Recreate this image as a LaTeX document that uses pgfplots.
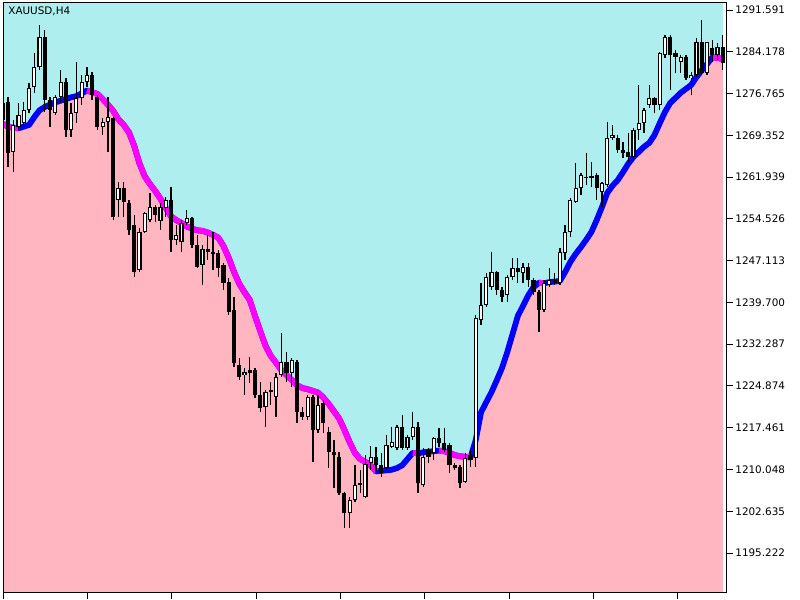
\documentclass[border=0pt]{standalone}
\usepackage{pgfplots}
\pgfplotsset{compat=1.18}
\usepackage{pgfplotstable}
\usepackage{fontspec}
\setmainfont{DejaVu Sans}
\definecolor{bgcyan}{RGB}{175,238,238}
\definecolor{bgpink}{RGB}{255,182,193}
\definecolor{mamag}{RGB}{255,0,255}
\definecolor{mablue}{RGB}{0,0,255}
\pgfplotstableread{
k o h l c ma
0 1275.1 1275.6 1271.2 1272.1 1271.4
1 1275.3 1276.2 1263.7 1266.2 1270.9
2 1266.4 1272.1 1262.8 1271.2 1270.7
3 1270.8 1275.1 1270.3 1273.0 1270.6
4 1271.5 1275.3 1270.8 1273.8 1270.9
5 1273.8 1278.6 1273.3 1277.7 1271.2
6 1277.9 1284.0 1276.9 1281.5 1272.6
7 1281.5 1288.9 1280.9 1286.8 1273.8
8 1286.8 1288.0 1273.5 1275.6 1274.4
9 1275.6 1276.2 1270.8 1273.8 1274.8
10 1273.3 1276.5 1273.0 1276.2 1275.2
11 1276.2 1280.9 1275.1 1278.8 1275.5
12 1278.8 1279.5 1269.1 1270.3 1275.8
13 1270.3 1275.1 1269.1 1273.3 1276.1
14 1273.3 1282.4 1271.5 1276.0 1276.3
15 1276.0 1280.1 1274.7 1278.8 1276.8
16 1278.8 1281.5 1277.9 1280.1 1277.3
17 1280.1 1280.6 1275.6 1276.5 1277.0
18 1276.2 1276.5 1270.3 1270.8 1276.7
19 1270.8 1272.4 1269.4 1271.7 1275.8
20 1271.7 1276.2 1266.4 1272.6 1274.8
21 1272.4 1272.6 1254.3 1254.9 1273.7
22 1257.9 1261.1 1254.9 1260.0 1272.2
23 1260.0 1261.1 1254.9 1257.5 1271.2
24 1257.3 1257.9 1251.7 1252.5 1269.9
25 1253.4 1255.2 1244.2 1245.1 1267.5
26 1245.5 1252.9 1245.1 1252.2 1264.4
27 1252.2 1255.7 1252.0 1255.6 1262.1
28 1254.3 1259.1 1254.0 1256.6 1260.7
29 1256.6 1257.0 1254.0 1255.2 1259.5
30 1254.1 1257.3 1252.5 1256.6 1258.1
31 1256.5 1258.4 1254.9 1257.9 1256.5
32 1257.9 1260.2 1248.6 1250.8 1255.0
33 1250.8 1253.4 1249.9 1251.7 1254.3
34 1250.4 1254.3 1248.6 1253.8 1253.8
35 1253.8 1256.1 1253.4 1254.7 1253.2
36 1254.7 1254.9 1249.3 1249.9 1252.8
37 1249.9 1251.7 1245.8 1246.0 1252.5
38 1246.3 1249.9 1242.8 1249.2 1252.4
39 1249.2 1251.7 1247.2 1248.6 1252.1
40 1248.6 1252.2 1245.5 1248.5 1251.7
41 1248.5 1249.0 1244.2 1245.8 1251.2
42 1246.3 1246.7 1241.9 1243.1 1249.7
43 1243.3 1244.0 1237.5 1238.0 1247.6
44 1238.4 1240.7 1228.2 1228.9 1245.1
45 1228.6 1229.8 1225.9 1226.5 1243.0
46 1226.8 1228.1 1223.3 1227.3 1241.5
47 1227.7 1230.0 1225.4 1227.2 1240.1
48 1227.7 1228.1 1222.7 1223.3 1237.3
49 1223.3 1225.6 1220.2 1221.0 1234.6
50 1221.1 1224.2 1217.6 1223.8 1232.0
51 1224.2 1225.6 1221.5 1223.8 1230.2
52 1222.9 1227.2 1219.4 1226.5 1229.0
53 1226.8 1234.3 1226.5 1229.1 1227.7
54 1229.1 1230.9 1225.6 1227.2 1226.8
55 1227.2 1229.8 1224.7 1229.5 1225.9
56 1229.1 1229.5 1218.3 1220.2 1225.0
57 1220.2 1221.1 1218.8 1219.4 1224.5
58 1219.4 1223.3 1218.8 1222.9 1224.3
59 1222.9 1223.3 1211.4 1217.1 1224.0
60 1217.1 1223.3 1216.5 1221.5 1223.7
61 1221.8 1222.4 1216.5 1218.3 1222.8
62 1216.7 1217.6 1210.3 1213.1 1221.7
63 1213.1 1215.3 1206.8 1212.6 1220.4
64 1212.3 1213.1 1205.5 1205.9 1219.1
65 1205.9 1206.0 1199.7 1202.3 1217.1
66 1202.3 1205.2 1199.7 1204.6 1214.9
67 1204.6 1210.8 1204.3 1207.3 1213.0
68 1207.3 1210.0 1205.9 1207.6 1211.9
69 1205.2 1212.6 1205.0 1211.0 1211.4
70 1211.2 1214.2 1210.0 1212.3 1210.8
71 1212.3 1214.0 1209.6 1210.8 1209.7
72 1210.8 1213.0 1208.7 1209.4 1209.8
73 1210.3 1216.2 1210.0 1214.4 1209.9
74 1214.0 1217.6 1213.9 1214.9 1210.0
75 1213.9 1217.9 1213.5 1217.6 1210.3
76 1217.6 1219.7 1213.5 1213.9 1210.8
77 1213.9 1216.2 1213.5 1215.8 1211.9
78 1215.8 1220.2 1215.3 1217.6 1213.0
79 1217.6 1218.5 1205.9 1207.6 1212.9
80 1207.3 1213.9 1206.9 1212.3 1213.1
81 1213.5 1213.9 1211.2 1212.3 1213.2
82 1213.0 1215.8 1211.7 1215.6 1213.3
83 1215.6 1217.4 1214.0 1214.8 1213.4
84 1214.8 1217.4 1213.2 1213.5 1213.3
85 1214.4 1214.8 1209.4 1210.8 1213.0
86 1210.8 1211.2 1210.0 1210.3 1212.6
87 1210.5 1210.8 1206.8 1207.6 1212.4
88 1207.8 1213.0 1207.6 1212.1 1212.3
89 1212.6 1213.5 1210.5 1211.7 1212.2
90 1212.1 1237.5 1210.5 1236.9 1215.3
91 1236.6 1243.1 1235.7 1239.2 1220.2
92 1239.2 1244.9 1238.9 1244.2 1222.0
93 1242.4 1248.6 1241.9 1245.1 1223.8
94 1245.1 1245.2 1241.0 1241.9 1225.9
95 1241.9 1242.4 1239.8 1240.7 1228.1
96 1241.0 1244.6 1239.8 1244.2 1230.9
97 1244.2 1247.6 1243.7 1245.8 1234.1
98 1245.8 1247.6 1243.1 1245.1 1237.3
99 1244.9 1246.7 1243.1 1246.0 1239.1
100 1246.0 1246.7 1242.4 1243.7 1241.0
101 1243.7 1244.0 1241.0 1241.5 1242.4
102 1241.5 1241.9 1234.4 1238.4 1243.2
103 1238.4 1243.7 1238.0 1243.1 1243.1
104 1242.8 1245.8 1242.4 1243.7 1243.3
105 1243.7 1244.9 1242.8 1243.1 1243.4
106 1243.1 1249.3 1242.8 1248.6 1243.5
107 1248.5 1253.4 1247.2 1252.2 1245.1
108 1252.2 1258.2 1251.3 1257.9 1246.9
109 1257.5 1264.4 1257.3 1260.0 1248.3
110 1260.0 1262.7 1258.8 1262.3 1249.5
111 1262.0 1266.2 1260.5 1261.8 1250.8
112 1262.1 1264.6 1260.2 1262.0 1252.2
113 1262.3 1262.7 1257.9 1260.0 1254.3
114 1259.3 1261.1 1256.6 1260.9 1256.6
115 1260.5 1271.7 1260.2 1268.9 1259.1
116 1268.9 1271.2 1268.5 1269.4 1260.4
117 1268.9 1269.4 1266.2 1266.7 1261.4
118 1266.7 1268.2 1265.3 1266.2 1262.8
119 1266.4 1269.8 1264.6 1265.5 1264.3
120 1265.5 1270.6 1265.3 1270.3 1265.5
121 1270.3 1278.3 1268.5 1271.5 1266.4
122 1271.5 1274.2 1269.8 1273.8 1267.3
123 1274.7 1278.3 1274.2 1276.0 1268.0
124 1276.0 1276.2 1273.3 1274.7 1269.4
125 1274.7 1284.2 1273.8 1284.0 1271.5
126 1283.6 1287.2 1283.1 1286.8 1273.5
127 1286.8 1287.2 1277.4 1283.6 1275.1
128 1284.0 1284.5 1280.4 1283.3 1276.0
129 1282.4 1283.6 1280.4 1283.3 1276.9
130 1283.3 1283.6 1279.2 1279.5 1277.6
131 1279.5 1280.6 1276.5 1280.1 1278.3
132 1280.1 1286.6 1279.7 1285.9 1279.7
133 1285.9 1289.8 1280.1 1280.4 1280.9
134 1280.4 1286.0 1280.1 1285.9 1282.0
135 1284.8 1286.3 1282.4 1283.6 1283.2
136 1283.6 1285.7 1282.7 1285.0 1283.1
137 1285.0 1287.2 1280.9 1282.2 1282.9
}\data
\begin{document}
\begin{tikzpicture}
\useasboundingbox (0,0) rectangle (400pt,300pt);
\begin{axis}[
  at={(2pt,3.5pt)}, anchor=south west,
  scale only axis, width=361.5pt, height=295pt,
  xmin=0.23, xmax=137.8, ymin=1188.13, ymax=1292.84,
  axis on top,
  axis line style={line width=0.5pt, black},
  tick align=outside, xtick pos=bottom, ytick pos=right,
  major tick length=3pt,
  tick style={black, line width=0.5pt},
  xtick={0.23,16.1,32.15,48.2,64.25,80.3,96.35,112.4,128.45},
  xticklabels={},
  ytick={1195.222,1202.635,1210.048,1217.461,1224.874,1232.287,1239.700,1247.113,1254.526,1261.939,1269.352,1276.765,1284.178,1291.591},
  yticklabels={1195.222,1202.635,1210.048,1217.461,1224.874,1232.287,1239.700,1247.113,1254.526,1261.939,1269.352,1276.765,1284.178,1291.591},
  yticklabel style={font=\fontsize{5.2}{6}\selectfont, inner sep=1pt},
]
% backgrounds
\addplot[fill=bgcyan, draw=none] coordinates {(0,1180) (137.1,1180) (137.1,1300) (0,1300)} -- cycle;
\addplot[fill=bgpink, draw=none] table[x=k, y=ma] {\data} \closedcycle;
% moving average
\addplot[mablue, line width=2.9pt, line join=round] table[x=k, y=ma] {\data};
\addplot[mamag, line width=2.9pt, line join=round, restrict x to domain=0:3] table[x=k, y=ma] {\data};
\addplot[mamag, line width=2.9pt, line join=round, restrict x to domain=16:71] table[x=k, y=ma] {\data};
\addplot[mamag, line width=2.9pt, line join=round, restrict x to domain=78:79] table[x=k, y=ma] {\data};
\addplot[mamag, line width=2.9pt, line join=round, restrict x to domain=83:89] table[x=k, y=ma] {\data};
\addplot[mamag, line width=2.9pt, line join=round, restrict x to domain=102:103] table[x=k, y=ma] {\data};
\addplot[mamag, line width=2.9pt, line join=round, restrict x to domain=135:137] table[x=k, y=ma] {\data};
% wicks
\addplot[draw=none, mark=none, error bars/.cd, y dir=both, y explicit, error mark=none,
  error bar style={draw=black, line width=0.65pt}]
  table[x=k, y expr={(\thisrow{h}+\thisrow{l})/2}, y error expr={(\thisrow{h}-\thisrow{l})/2}] {\data};
% bodies (outline)
\addplot[draw=none, mark=none, error bars/.cd, y dir=both, y explicit, error mark=none,
  error bar style={draw=black, line width=2.1pt}]
  table[x=k, y expr={(\thisrow{o}+\thisrow{c})/2}, y error expr={max(abs(\thisrow{o}-\thisrow{c})/2,0.1)}] {\data};
% bull bodies (white inside)
\addplot[draw=none, mark=none, error bars/.cd, y dir=both, y explicit, error mark=none,
  error bar style={draw=white, line width=0.95pt}]
  table[x=k, y expr={(\thisrow{o}+\thisrow{c})/2}, y error expr={(\thisrow{c}>\thisrow{o}) ? max((\thisrow{c}-\thisrow{o})/2-0.17,0) : 0}] {\data};
\node[anchor=north west, inner sep=0pt, font=\fontsize{5.2}{6}\selectfont, xshift=2pt, yshift=-1.5pt] at (rel axis cs:0,1) {XAUUSD,H4};
\end{axis}
\end{tikzpicture}
\end{document}
